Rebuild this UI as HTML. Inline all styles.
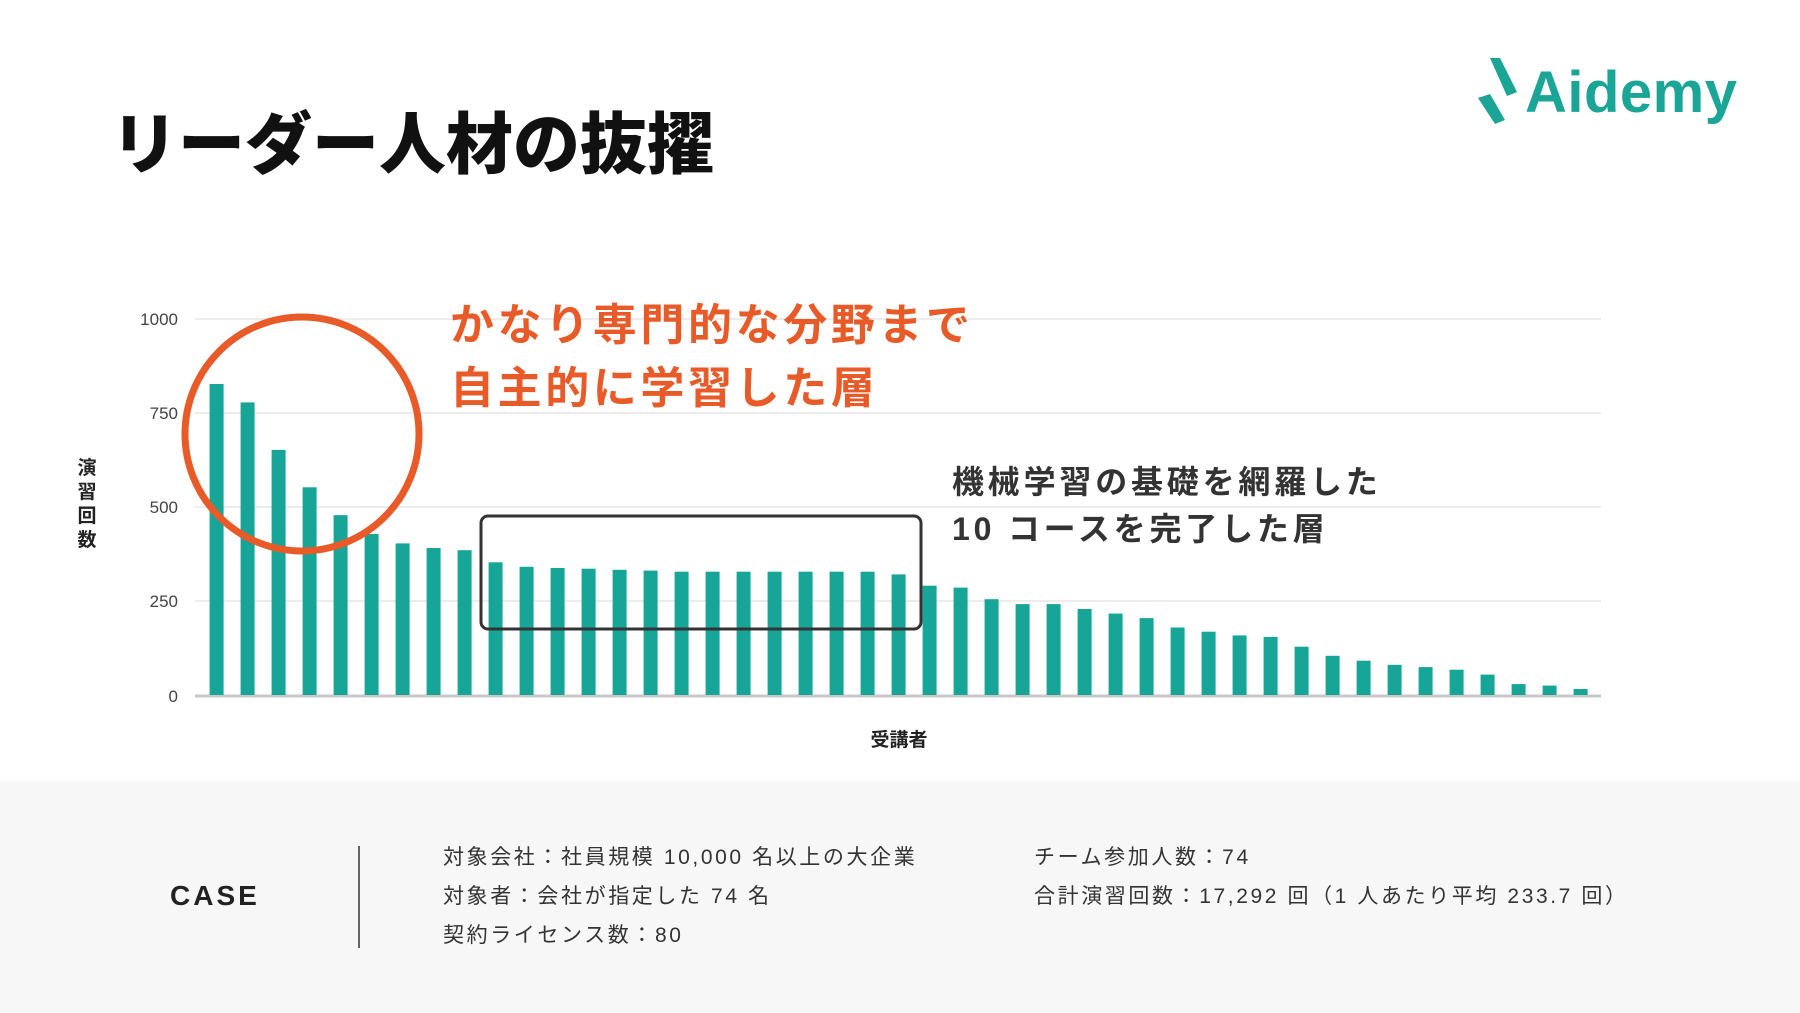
<!DOCTYPE html>
<html><head><meta charset="utf-8">
<style>
html,body{margin:0;padding:0;background:#fff;}
body{width:1800px;height:1013px;overflow:hidden;position:relative;font-family:"Liberation Sans","Noto Sans CJK JP",sans-serif;}
svg{position:absolute;left:0;top:0;}
</style></head><body>
<svg width="1800" height="1013" viewBox="0 0 1800 1013" xmlns="http://www.w3.org/2000/svg" font-family="'Liberation Sans','Noto Sans CJK JP',sans-serif">
<rect x="0" y="781" width="1800" height="232" fill="#f7f7f7"/>
<text x="111" y="168" font-size="67" font-weight="900" fill="#111">リーダー人材の抜擢</text>
<!-- logo -->
<g fill="#1ba597">
<polygon points="1490,58 1500,58 1517,92 1507,96"/>
<polygon points="1478,98 1490,94 1505,120 1495,124"/>
<text x="1525" y="112" font-size="58" font-weight="bold" letter-spacing="0.5">Aidemy</text>
</g>
<!-- grid -->
<g stroke="#e6e6e6" stroke-width="1.5">
<line x1="195" y1="319" x2="1601" y2="319"/>
<line x1="195" y1="413" x2="1601" y2="413"/>
<line x1="195" y1="507" x2="1601" y2="507"/>
<line x1="195" y1="601" x2="1601" y2="601"/>
</g>
<line x1="195" y1="696" x2="1601" y2="696" stroke="#c8c8c8" stroke-width="3"/>
<g font-size="17" fill="#444" text-anchor="end">
<text x="178" y="325">1000</text><text x="178" y="419">750</text><text x="178" y="513">500</text><text x="178" y="607">250</text><text x="178" y="702">0</text>
</g>
<g font-size="19" font-weight="bold" fill="#222" text-anchor="middle">
<text x="87" y="474">演</text><text x="87" y="498">習</text><text x="87" y="522">回</text><text x="87" y="546">数</text>
<text x="899" y="746">受講者</text>
</g>
<g id="bars" fill="#17a597"></g>
<ellipse cx="302" cy="434" rx="117" ry="117" fill="none" stroke="#e85a28" stroke-width="7"/>
<g font-size="44" font-weight="bold" fill="#e85a28" letter-spacing="3.6">
<text x="450" y="340">かなり専門的な分野まで</text>
<text x="450" y="403">自主的に学習した層</text>
</g>
<rect x="481" y="516" width="440" height="113" rx="7" fill="none" stroke="#333" stroke-width="3"/>
<g font-size="32" font-weight="bold" fill="#333" letter-spacing="3.8">
<text x="952" y="493">機械学習の基礎を網羅した</text>
<text x="952" y="540">10 コースを完了した層</text>
</g>
<text x="170" y="905" font-size="28" font-weight="bold" fill="#222" letter-spacing="3">CASE</text>
<line x1="359" y1="846" x2="359" y2="948" stroke="#333" stroke-width="1.5"/>
<g font-size="21" fill="#333" letter-spacing="2.6">
<text x="443" y="864">対象会社：社員規模 10,000 名以上の大企業</text>
<text x="443" y="903">対象者：会社が指定した 74 名</text>
<text x="443" y="942">契約ライセンス数：80</text>
<text x="1034" y="864">チーム参加人数：74</text>
<text x="1034" y="903">合計演習回数：17,292 回（1 人あたり平均 233.7 回）</text>
</g>
</svg>
<script>
var v=[825,776,650,551,477,427,402,390,384,352,340,337,335,332,330,327,327,327,327,327,327,327,320,290,285,254,241,241,228,216,204,179,168,158,154,128,104,91,80,74,67,54,29,25,16];
var g=document.getElementById('bars'),s='';
for(var i=0;i<v.length;i++){var x=216.6+31*i-7,h=v[i]*0.377;s+='<rect x="'+x.toFixed(1)+'" y="'+(695-h).toFixed(1)+'" width="14" height="'+h.toFixed(1)+'"/>';}
g.innerHTML=s;
</script>
</body></html>
